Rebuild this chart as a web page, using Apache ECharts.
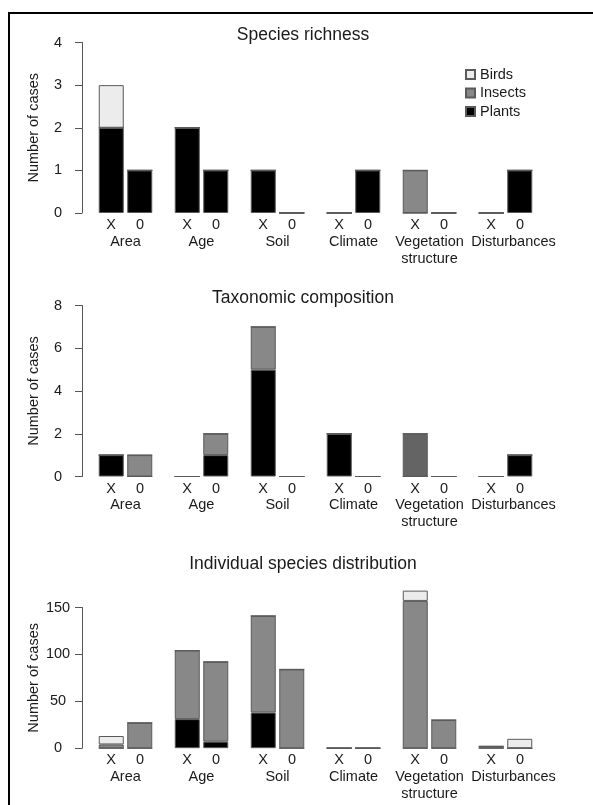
<!DOCTYPE html>
<html>
<head>
<meta charset="utf-8">
<script src="https://cdn.jsdelivr.net/npm/echarts@6/dist/echarts.min.js"></script>
<style>
  html, body { margin: 0; padding: 0; background: #fff; }
  #chart { width: 593px; height: 805px; }
</style>
</head>
<body>
<div id="chart"></div>
<script>
    'use strict';

    var groups = ['Area', 'Age', 'Soil', 'Climate', 'Vegetation\nstructure', 'Disturbances'];
    var titles = ['Species richness', 'Taxonomic composition', 'Individual species distribution'];

    // Species richness
    var richPlantsX  = [2, 2, 1, 0, 0, 0];
    var richInsectsX = [0, 0, 0, 0, 1, 0];
    var richBirdsX   = [1, 0, 0, 0, 0, 0];
    var richPlants0  = [1, 1, 0, 1, 0, 1];
    var richInsects0 = [0, 0, 0, 0, 0, 0];
    var richBirds0   = [0, 0, 0, 0, 0, 0];

    // Taxonomic composition
    var taxPlantsX  = [1, 0, 5, 2, 0, 0];
    var taxInsectsX = [0, 0, 2, 0, 2, 0];
    var taxBirdsX   = [0, 0, 0, 0, 0, 0];
    var taxPlants0  = [0, 1, 0, 0, 0, 1];
    var taxInsects0 = [1, 1, 0, 0, 0, 0];
    var taxBirds0   = [0, 0, 0, 0, 0, 0];

    // Individual species distribution
    var indPlantsX  = [0, 31, 38, 0, 0, 0];
    var indInsectsX = [4, 73, 103, 0, 157, 2];
    var indBirdsX   = [9, 0, 0, 0, 11, 0];
    var indPlants0  = [0, 7, 0, 0, 0, 0];
    var indInsects0 = [27, 85, 84, 0, 30, 0];
    var indBirds0   = [0, 0, 0, 0, 0, 10];

    var yMax = [4, 8, 150];
    var yStep = [1, 2, 50];

    var colors = { Birds: '#ececec', Insects: '#888888', Plants: '#000000' };
    var font = 'Liberation Sans, Arial, Helvetica, sans-serif';

    var panels = [
        { X: [richPlantsX, richInsectsX, richBirdsX], Z: [richPlants0, richInsects0, richBirds0] },
        { X: [taxPlantsX, taxInsectsX, taxBirdsX], Z: [taxPlants0, taxInsects0, taxBirds0] },
        { X: [indPlantsX, indInsectsX, indBirdsX], Z: [indPlants0, indInsects0, indBirds0] }
    ];

    var gridBox = [
        { top: 42.5, height: 170.5 },
        { top: 305.5, height: 171 },
        { top: 607.5, height: 140.7 }
    ];
    var titleTop = [21, 284, 550];

    var taxa = ['Plants', 'Insects', 'Birds'];
    var grids = [], xAxes = [], yAxes = [], series = [], titleList = [];

    gridBox.forEach(function (g, i) {
        grids.push({ left: 87.5, width: 456, top: g.top, height: g.height });
        titleList.push({
            text: titles[i], left: 298, top: titleTop[i], textAlign: 'center',
            textStyle: { fontFamily: font, fontSize: 17.5, fontWeight: 'normal', color: '#1a1a1a' }
        });
        xAxes.push({
            type: 'category', gridIndex: i, data: groups,
            axisLine: { show: false }, axisTick: { show: false },
            axisLabel: {
                interval: 0, margin: 4, color: '#1a1a1a', fontFamily: font, fontSize: 14.5,
                formatter: function (v) {
                    var tag = v === 'Disturbances' ? 'd' : 'n';
                    return '{m|X}{m|0}\n' + v.split('\n').map(function (s) {
                        return '{' + tag + '|' + s + '}';
                    }).join('\n');
                },
                rich: {
                    m: { width: 29, align: 'center', lineHeight: 16, fontSize: 14.5, fontFamily: font, color: '#1a1a1a' },
                    n: { align: 'center', lineHeight: 17, fontSize: 14.5, fontFamily: font, color: '#1a1a1a' },
                    d: { align: 'center', lineHeight: 17, fontSize: 14.5, fontFamily: font, color: '#1a1a1a', padding: [0, 0, 0, 16] }
                }
            }
        });
        yAxes.push({
            type: 'value', gridIndex: i, min: 0, max: yMax[i], interval: yStep[i], offset: 5.5,
            name: 'Number of cases', nameLocation: 'middle', nameRotate: 90, nameGap: 41,
            nameMoveOverlap: false,
            nameTextStyle: { fontFamily: font, fontSize: 14.5, color: '#1a1a1a' },
            splitLine: { show: false },
            axisLine: { show: true, lineStyle: { color: '#555', width: 1 } },
            axisTick: { show: true, length: 7, lineStyle: { color: '#555' } },
            axisLabel: { margin: 24, align: 'center', fontFamily: font, fontSize: 14.5, color: '#1a1a1a' }
        });

        [['X', panels[i].X], ['0', panels[i].Z]].forEach(function (pos) {
            pos[1].forEach(function (arr, t) {
                var name = taxa[t];
                var data = arr.slice();
                // darker insect bar in the taxonomic composition panel
                if (i === 1 && pos[0] === 'X' && name === 'Insects') {
                    data[4] = { value: arr[4], itemStyle: { color: '#646464' } };
                }
                series.push({
                    name: name, type: 'bar', stack: 'p' + i + pos[0],
                    xAxisIndex: i, yAxisIndex: i,
                    barWidth: 25, barGap: '14%', clip: false,
                    itemStyle: { color: colors[name], borderColor: '#5a5a5a', borderWidth: 1 },
                    emphasis: { disabled: true },
                    data: data
                });
            });
        });
    });

    var option = {
        animation: false,
        backgroundColor: '#fff',
        title: titleList,
        legend: {
            data: ['Birds', 'Insects', 'Plants'],
            orient: 'vertical', left: 465, top: 67, padding: 0,
            icon: 'rect', itemWidth: 9, itemHeight: 9, itemGap: 3.5,
            textStyle: { fontFamily: font, fontSize: 14.5, color: '#1a1a1a', lineHeight: 14 }
        },
        grid: grids,
        xAxis: xAxes,
        yAxis: yAxes,
        series: series,
        graphic: [{
            type: 'rect', silent: true,
            shape: { x: 9, y: 13, width: 620, height: 820 },
            style: { fill: null, stroke: '#000', lineWidth: 2 }
        }]
    };

    var chart = echarts.init(document.getElementById('chart'), null, { renderer: 'canvas' });
    chart.setOption(option);
</script>
</body>
</html>
